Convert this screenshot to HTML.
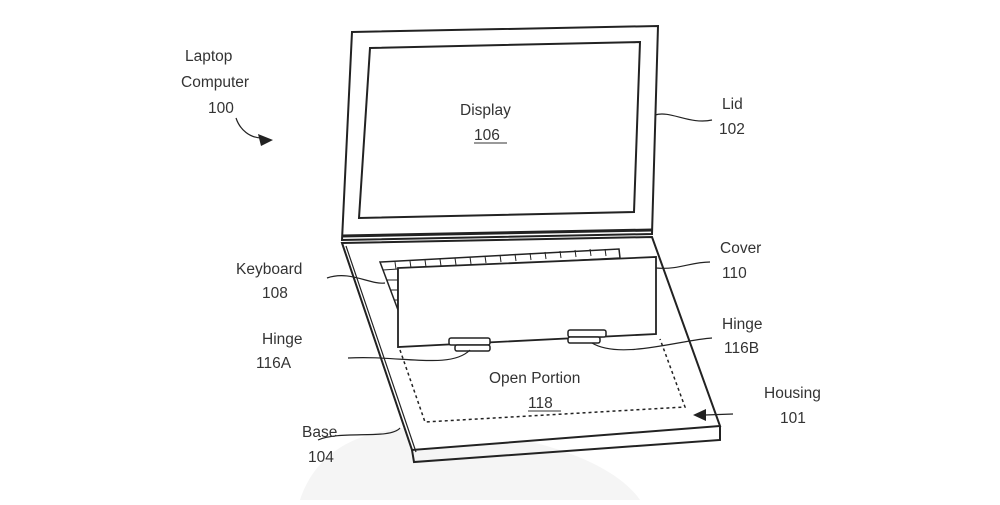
<!DOCTYPE html>
<html><head><style>
body{margin:0;background:#fff;width:1000px;height:500px;overflow:hidden}
text{font-family:"Liberation Sans",sans-serif;font-size:15.5px;fill:#333}
</style></head><body>
<svg width="1000" height="500" viewBox="0 0 1000 500" xmlns="http://www.w3.org/2000/svg">
<path d="M300 500 C320 440 380 420 460 430 C560 440 620 470 640 500 Z" fill="#f5f5f5"/>
<g stroke="#222" fill="none" stroke-width="2">
<path d="M352 32 L658 26 L652 234 L342 240 Z" fill="#fff"/>
<path d="M370 48 L640 42 L634 212 L359 218 Z"/>
<path d="M342 236 L652 230" stroke-width="3"/>
<path d="M342 243 L652 237 L720 426 L412 450 Z" fill="#fff"/>
<path d="M412 450 L414 462 L720 440 L720 426" />
<path d="M346 246 L416 452" stroke-width="1.2"/>
<path d="M380 262 L619 249 L620 258 L398 270 L398 310 Z" stroke-width="1.5"/>
<g stroke-width="1">
<path d="M383 270 L398 269 M387 280 L398 280 M391 290 L398 290 M394 300 L398 300"/>
<path d="M395 262 L396 269 M410 261 L411 268 M425 260 L426 267 M440 259 L441 266 M455 258 L456 265 M470 257 L471 264 M485 256 L486 263 M500 255 L501 262 M515 254 L516 261 M530 253 L531 260 M545 252 L546 259 M560 251 L561 258 M575 250 L576 257 M590 249 L591 256 M605 249 L606 256"/>
</g>
<path d="M398 268 L656 257 L656 334 L398 347 Z" fill="#fff" stroke-width="1.8"/>
<rect x="449" y="338" width="41" height="7" rx="2" fill="#fff" stroke-width="1.5"/>
<rect x="455" y="345" width="35" height="6" rx="2" fill="#fff" stroke-width="1.5"/>
<rect x="568" y="330" width="38" height="7" rx="2" fill="#fff" stroke-width="1.5"/>
<rect x="568" y="337" width="32" height="6" rx="2" fill="#fff" stroke-width="1.5"/>
<path d="M400 350 L425 422 L685 407 L660 339" stroke-dasharray="3,3" stroke-width="1.5"/>
<g stroke-width="1.2">
<path d="M236 118 C240 130 250 138 262 138"/>
<path d="M655 115 C670 110 690 125 712 120"/>
<path d="M656 268 C680 270 690 262 710 262"/>
<path d="M327 278 C350 270 370 285 385 283"/>
<path d="M348 358 C400 355 450 370 470 350"/>
<path d="M592 343 C620 360 680 340 712 338"/>
<path d="M318 440 C340 430 390 440 400 428"/>
<path d="M733 414 L705 415"/>
</g>
</g>
<path d="M273 140 L258 134 L261 146 Z" fill="#222"/>
<path d="M693 415 L706 409 L706 421 Z" fill="#222"/>
<text x="185" y="61">Laptop</text>
<text x="181" y="87">Computer</text>
<text x="208" y="113">100</text>
<text x="460" y="115" font-size="17">Display</text>
<text x="474" y="140" font-size="17">106</text>
<line x1="474" y1="143" x2="507" y2="143" stroke="#333"/>
<text x="722" y="109">Lid</text>
<text x="719" y="134">102</text>
<text x="720" y="253">Cover</text>
<text x="722" y="278">110</text>
<text x="236" y="274">Keyboard</text>
<text x="262" y="298">108</text>
<text x="262" y="344">Hinge</text>
<text x="256" y="368">116A</text>
<text x="722" y="329">Hinge</text>
<text x="724" y="353">116B</text>
<text x="489" y="383" font-size="17">Open Portion</text>
<text x="528" y="408" font-size="17">118</text>
<line x1="528" y1="411" x2="561" y2="411" stroke="#333"/>
<text x="764" y="398">Housing</text>
<text x="780" y="423">101</text>
<text x="302" y="437">Base</text>
<text x="308" y="462">104</text>
</svg>
</body></html>
